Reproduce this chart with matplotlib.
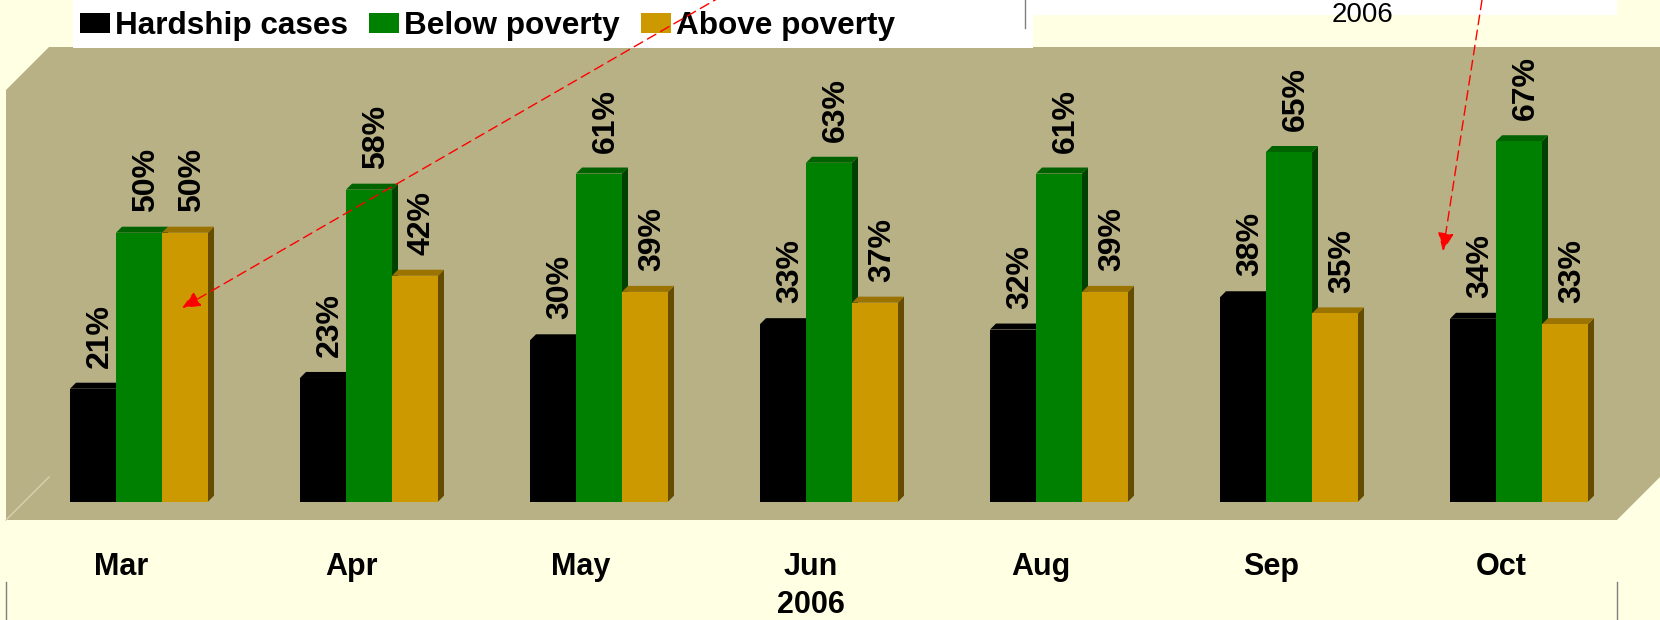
import matplotlib.pyplot as plt
from matplotlib.patches import Polygon, Rectangle
import numpy as np

plt.rcParams['font.family'] = ['Liberation Sans', 'DejaVu Sans']

months = ['Mar', 'Apr', 'May', 'Jun', 'Aug', 'Sep', 'Oct']
hardship = [21, 23, 30, 33, 32, 38, 34]
below_poverty = [50, 58, 61, 63, 61, 65, 67]
above_poverty = [50, 42, 39, 37, 39, 35, 33]
series_names = ['Hardship cases', 'Below poverty', 'Above poverty']
year_label = '2006'

W, H = 1660, 620
BG = '#FFFFE3'
WALL = '#B8B185'

fig = plt.figure(figsize=(W / 100, H / 100), dpi=100, facecolor=BG)
ax = fig.add_axes([0, 0, 1, 1])
ax.axis('off')

# layout in pixels: group spacing, first group centre, zero line (from top), px per percent
GROUP_PX, X0_PX, BASE_PX, PCT_PX = 230, 139, 501.7, 5.38
ax.set_xlim(-X0_PX / GROUP_PX, (W - X0_PX) / GROUP_PX)
ax.set_ylim(-(H - BASE_PX) / PCT_PX, BASE_PX / PCT_PX)


def px(x, y):
    # top-left pixel -> figure fraction
    return (x / W, 1 - y / H)


# back wall / floor of the 3d box
wall = Polygon([px(6, 90), px(49, 47), px(W, 47), px(W, 477), px(1617, 520), px(6, 520)],
               closed=True, transform=fig.transFigure, facecolor=WALL, edgecolor='none', zorder=0)
ax.add_patch(wall)
ax.plot([6 / W, 49 / W], [1 - 520 / H, 1 - 477 / H], transform=fig.transFigure,
        color='#D6D2B0', lw=1, zorder=0.5)

x = np.arange(len(months))
width = 0.2
dx = 6 / GROUP_PX
dy = 6 / PCT_PX

specs = [
    (hardship, -width, '#000000', '#000000', '#000000'),
    (below_poverty, 0.0, '#008000', '#006200', '#004000'),
    (above_poverty, width, '#CC9900', '#9A7300', '#664C00'),
]

handles = []
z = 2
for (vals, off, front, top, side), name in zip(specs, series_names):
    for xi, v in zip(x, vals):
        x0 = xi + off - width / 2
        x1 = x0 + width
        ax.add_patch(Polygon([(x1, 0), (x1 + dx, dy), (x1 + dx, v + dy), (x1, v)],
                             closed=True, facecolor=side, edgecolor='none', zorder=z))
        ax.add_patch(Polygon([(x0, v), (x0 + dx, v + dy), (x1 + dx, v + dy), (x1, v)],
                             closed=True, facecolor=top, edgecolor='none', zorder=z))
    bars = ax.bar(x + off, vals, width, color=front, edgecolor='none', zorder=z + 1, label=name)
    handles.append(bars)
    for xi, v in zip(x, vals):
        ax.annotate(f'{v}%', (xi + off, v), xytext=(5, 15), textcoords='offset points',
                    rotation=90, ha='center', va='bottom', fontsize=23, fontweight='bold',
                    zorder=10)
    z += 2

# category labels
lab_shift = 18 / GROUP_PX
for xi, m in zip(x, months):
    ax.text(xi - lab_shift, (BASE_PX - 575) / PCT_PX, m, ha='center', va='baseline',
            fontsize=22, fontweight='bold')
ax.text(x.mean() - lab_shift, (BASE_PX - 613) / PCT_PX, year_label, ha='center',
        va='baseline', fontsize=22, fontweight='bold')

# legend box
ax.add_patch(Rectangle(px(72.7, 47.7), 960 / W, 47.7 / H, transform=fig.transFigure,
                       facecolor='white', edgecolor='none', zorder=11))
leg_size = 22.7
fs = leg_size * 100 / 72
leg = ax.legend(handles=handles, loc='center left', bbox_to_anchor=px(80, 26),
                bbox_transform=fig.transFigure, ncol=3, frameon=False,
                prop={'weight': 'bold', 'size': leg_size}, handlelength=30 / fs,
                handleheight=20 / fs, handletextpad=5 / fs, columnspacing=21 / fs,
                borderpad=0, borderaxespad=0)
leg.set_zorder(12)

# top right title box
ax.add_patch(Rectangle(px(1033, 15), (1617 - 1033) / W, 15 / H, transform=fig.transFigure,
                       facecolor='white', edgecolor='none', zorder=11))
ax.text(*px(1362, 22), year_label, transform=fig.transFigure, ha='center', va='baseline',
        fontsize=20, zorder=12)

# small frame lines
for (xa, ya, yb) in [(1025, 0, 28), (6, 582, 620), (1617, 582, 620)]:
    ax.plot([xa / W, xa / W], [1 - ya / H, 1 - yb / H], transform=fig.transFigure,
            color='#808080', lw=1, zorder=12)

# red dashed arrows
arrow_kw = dict(arrowstyle='-|>,head_length=0.8,head_width=0.35', color='red', lw=1,
                linestyle=(0, (7, 4)), shrinkA=0, shrinkB=0, mutation_scale=14)
ax.annotate('', xy=px(182, 308), xytext=px(722, -4), xycoords='figure fraction',
            textcoords='figure fraction', arrowprops=arrow_kw, zorder=13)
ax.annotate('', xy=px(1443, 251), xytext=px(1482, 0), xycoords='figure fraction',
            textcoords='figure fraction', arrowprops=arrow_kw, zorder=13)

fig.savefig('out.png', dpi=100, facecolor=BG)
